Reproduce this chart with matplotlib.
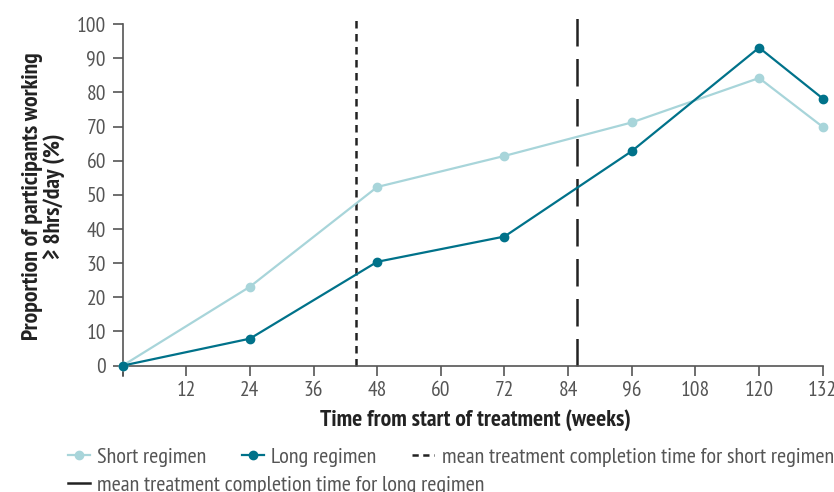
import matplotlib
matplotlib.use('Agg')
from matplotlib import pyplot as plt
from matplotlib.lines import Line2D

# data
weeks = [0, 24, 48, 72, 96, 120, 132]
short_regimen = [0, 23.1, 52.3, 61.4, 71.2, 84.2, 69.9]
long_regimen = [0, 7.9, 30.4, 37.8, 62.8, 93.1, 78.2]
short_completion = 44.0
long_completion = 85.7
xticks = [0, 12, 24, 36, 48, 60, 72, 84, 96, 108, 120, 132]
xticklabels = ['', '12', '24', '36', '48', '60', '72', '84', '96', '108', '120', '132']
yticks = [0, 10, 20, 30, 40, 50, 60, 70, 80, 90, 100]

LIGHT = '#a8d5da'
DARK = '#00728a'
GREY = '#555555'

plt.rcParams['font.family'] = ['PT Sans Narrow', 'DejaVu Sans']

fig = plt.figure(figsize=(8.34, 4.92), dpi=100)
ax = fig.add_axes([0.147, 0.236, 0.8395, 0.729])

ax.plot(weeks, short_regimen, color=LIGHT, lw=1.6, marker='o', ms=6, clip_on=False, zorder=3)
ax.plot(weeks, long_regimen, color=DARK, lw=1.6, marker='o', ms=6, clip_on=False, zorder=4)
ax.vlines(short_completion, 0, 102, colors='#222222', linestyles=(0, (3, 2.2)), lw=1.8)
ax.vlines(long_completion, 0, 102, colors='#222222', linestyles=(0, (11, 5)), lw=1.8)

ax.set_xlim(0, 132)
ax.set_ylim(-3, 102)
ax.spines['top'].set_visible(False)
ax.spines['right'].set_visible(False)
ax.spines['bottom'].set_position(('data', 0))
ax.spines['left'].set_bounds(-3, 100)
for s in ['left', 'bottom']:
    ax.spines[s].set_color(GREY)
    ax.spines[s].set_linewidth(1.2)

ax.set_xticks(xticks)
ax.set_xticklabels(xticklabels)
ax.set_yticks(yticks)
ax.tick_params(axis='both', colors=GREY, labelcolor=GREY, labelsize=15.5, width=1.2, length=7)
ax.tick_params(axis='x', pad=4)
ax.tick_params(axis='y', pad=5)

ax.set_ylabel('Proportion of participants working\n≥ 8hrs/day (%)', fontsize=17,
              fontweight='bold', color='#222222', labelpad=8, linespacing=1.05)
fig.text(0.57, 0.146, 'Time from start of treatment (weeks)', fontsize=17,
         fontweight='bold', color='#222222', ha='center', va='center')

h1 = [Line2D([], [], color=LIGHT, lw=1.6, marker='o', ms=6),
      Line2D([], [], color=DARK, lw=1.6, marker='o', ms=6),
      Line2D([], [], color='#222222', lw=1.8, ls=(0, (2.5, 1.8)))]
fig.legend(h1, ['Short regimen', 'Long regimen',
                'mean treatment completion time for short regimen'],
           loc='center left', bbox_to_anchor=(0.081, 0.071), ncol=3, frameon=False,
           fontsize=16, handlelength=1.0, handletextpad=0.33, columnspacing=1.6,
           labelcolor=GREY, borderaxespad=0, borderpad=0)
h2 = [Line2D([], [], color='#222222', lw=1.8)]
fig.legend(h2, ['mean treatment completion time for long regimen'],
           loc='center left', bbox_to_anchor=(0.081, 0.014), frameon=False,
           fontsize=16, handlelength=1.0, handletextpad=0.33, labelcolor=GREY,
           borderaxespad=0, borderpad=0)

fig.savefig('out.png', dpi=100)
